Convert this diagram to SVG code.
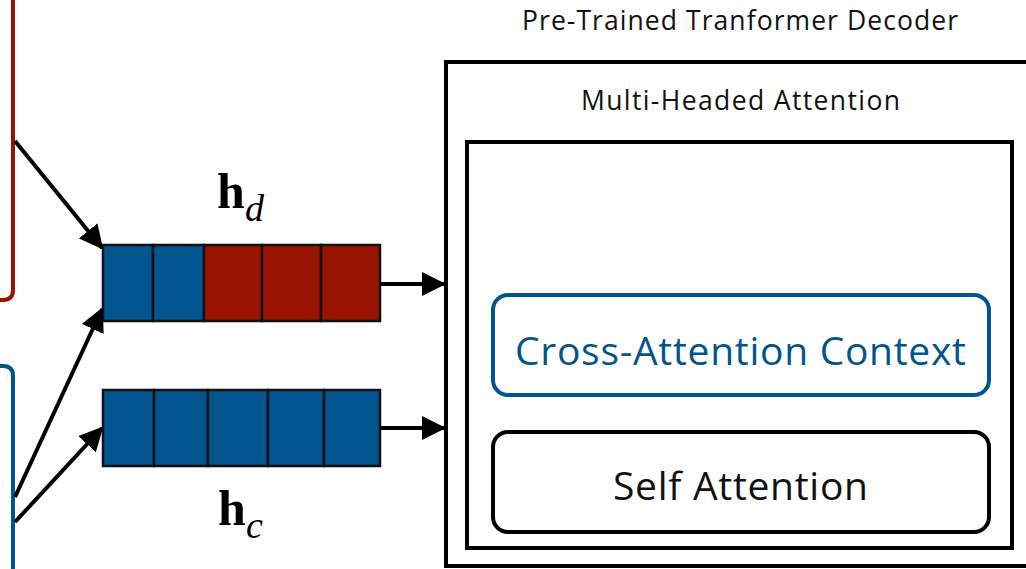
<svg xmlns="http://www.w3.org/2000/svg" width="1026" height="569" viewBox="0 0 1026 569">
<style>
.lbl{font-family:"Open Sans",Roboto,"Liberation Sans",sans-serif}
.cellb{fill:#02548f;stroke:#111;stroke-width:2.5}
.cellr{fill:#991400;stroke:#111;stroke-width:2.5}
.conn{stroke:#000;stroke-width:4;fill:none;marker-end:url(#ah)}
.math{font-family:"Liberation Serif","Times New Roman",serif}
</style>
<defs>
<marker id="ah" markerWidth="6" markerHeight="6" refX="5.5" refY="3" orient="auto" markerUnits="strokeWidth">
<path d="M0,0 L6,3 L0,6 Z" fill="#000"/>
</marker>
</defs>
<rect width="1026" height="569" fill="#fff"/>
<g id="encoder-d">
<path d="M-20,300 L3,300 Q13,300 13,290 L13,-10" fill="none" stroke="#991400" stroke-width="4"/>
</g>
<g id="encoder-c">
<path d="M-20,366 L3,366 Q13,366 13,376 L13,580" fill="none" stroke="#02548f" stroke-width="4"/>
</g>
<g id="hd">
<rect class="cellb" x="103" y="245" width="50" height="76"/>
<rect class="cellb" x="153" y="245" width="51" height="76"/>
<rect class="cellr" x="204" y="245" width="58" height="76"/>
<rect class="cellr" x="262" y="245" width="59" height="76"/>
<rect class="cellr" x="321" y="245" width="59" height="76"/>
<text class="math" x="217" y="208" font-size="50" font-weight="bold">h</text>
<text class="math" x="245" y="221" font-size="38" font-style="italic">d</text>
</g>
<g id="hc">
<rect class="cellb" x="103" y="390" width="51" height="76"/>
<rect class="cellb" x="154" y="390" width="54" height="76"/>
<rect class="cellb" x="208" y="390" width="60" height="76"/>
<rect class="cellb" x="268" y="390" width="56" height="76"/>
<rect class="cellb" x="324" y="390" width="56" height="76"/>
<text class="math" x="218" y="525" font-size="50" font-weight="bold">h</text>
<text class="math" x="246" y="538" font-size="38" font-style="italic">c</text>
</g>
<g id="decoder">
<text class="lbl" x="522" y="30" font-size="26.5" fill="#111" textLength="436">Pre-Trained Tranformer Decoder</text>
<rect x="446" y="62" width="600" height="504" fill="none" stroke="#000" stroke-width="4"/>
<text class="lbl" x="581" y="110" font-size="26.5" fill="#111" textLength="319">Multi-Headed Attention</text>
<rect x="467" y="142" width="545" height="406" fill="none" stroke="#000" stroke-width="4"/>
</g>
<g id="cross-attention">
<rect x="493" y="295" width="496" height="100" rx="15" fill="none" stroke="#02548f" stroke-width="4"/>
<text class="lbl" x="515" y="365" font-size="39" fill="#02548f" textLength="451">Cross-Attention Context</text>
</g>
<g id="self-attention">
<rect x="493" y="432" width="496" height="100" rx="15" fill="none" stroke="#000" stroke-width="4"/>
<text class="lbl" x="613" y="500" font-size="39" fill="#111" textLength="255">Self Attention</text>
</g>
<g id="connectors">
<line class="conn" x1="15" y1="141" x2="102" y2="248"/>
<line class="conn" x1="15" y1="497" x2="102" y2="309"/>
<line class="conn" x1="15" y1="522" x2="102" y2="428"/>
<line class="conn" x1="380" y1="284" x2="444" y2="284"/>
<line class="conn" x1="380" y1="428" x2="444" y2="428"/>
</g>
</svg>
